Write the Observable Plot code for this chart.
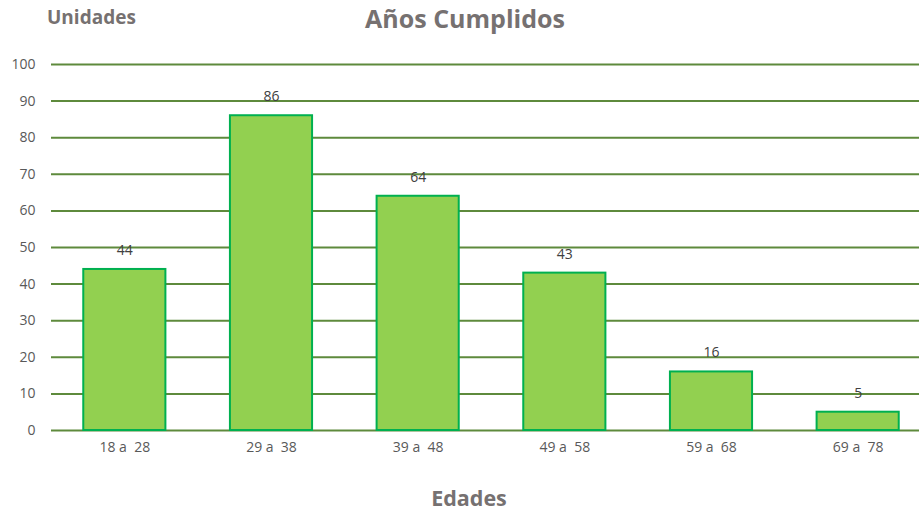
<!DOCTYPE html>
<html>
<head>
<meta charset="utf-8">
<script src="https://cdn.jsdelivr.net/npm/d3@7"></script>
<script src="https://cdn.jsdelivr.net/npm/@observablehq/plot@0.6"></script>
<style>
  body { margin: 0; background: #fff; font-family: "Open Sans", sans-serif; }
  #wrap { position: relative; width: 919px; height: 511px; overflow: hidden; }
  .lbl { position: absolute; color: #767171; font-weight: bold; white-space: nowrap; line-height: 1; }
  #title { left: 0; width: 930px; top: 6px; text-align: center; font-size: 25px; }
  #ylab { left: 47px; top: 8px; font-size: 19px; }
  #xlab { left: 0; width: 938px; top: 487px; text-align: center; font-size: 21.5px; }
  svg { display: block; }
  svg text { white-space: pre; }
</style>
</head>
<body>
<div id="wrap">
  <div id="chart"></div>
  <div class="lbl" id="title">Años Cumplidos</div>
  <div class="lbl" id="ylab">Unidades</div>
  <div class="lbl" id="xlab">Edades</div>
</div>
<script>
const categories = ["18 a  28", "29 a  38", "39 a  48", "49 a  58", "59 a  68", "69 a  78"];
const values = [44, 86, 64, 43, 16, 5];
const yTicks = [0, 10, 20, 30, 40, 50, 60, 70, 80, 90, 100];

const data = categories.map((c, i) => ({ edad: c, n: values[i] }));

const chart = Plot.plot({
  width: 919,
  height: 511,
  marginTop: 64,
  marginBottom: 81,
  marginLeft: 51,
  marginRight: -12,
  style: { fontFamily: "'Open Sans', sans-serif", fontSize: "14px", color: "#595959", background: "#fff" },
  x: { domain: categories, paddingInner: 0.44, paddingOuter: 0.22, round: false, label: null, tickSize: 0, tickPadding: 12 },
  y: { domain: [0, 100], ticks: yTicks, label: null, tickSize: 0, tickPadding: 16 },
  marks: [
    Plot.ruleY(yTicks, { stroke: "#5e8a3c", strokeWidth: 2 }),
    Plot.barY(data, { x: "edad", y: "n", fill: "#92d050", stroke: "#00b050", strokeWidth: 2 }),
    Plot.text(data, { x: "edad", y: "n", text: d => String(d.n), dy: -19, fill: "#404040", fontSize: 14 })
  ]
});
document.getElementById("chart").appendChild(chart);
</script>
</body>
</html>
